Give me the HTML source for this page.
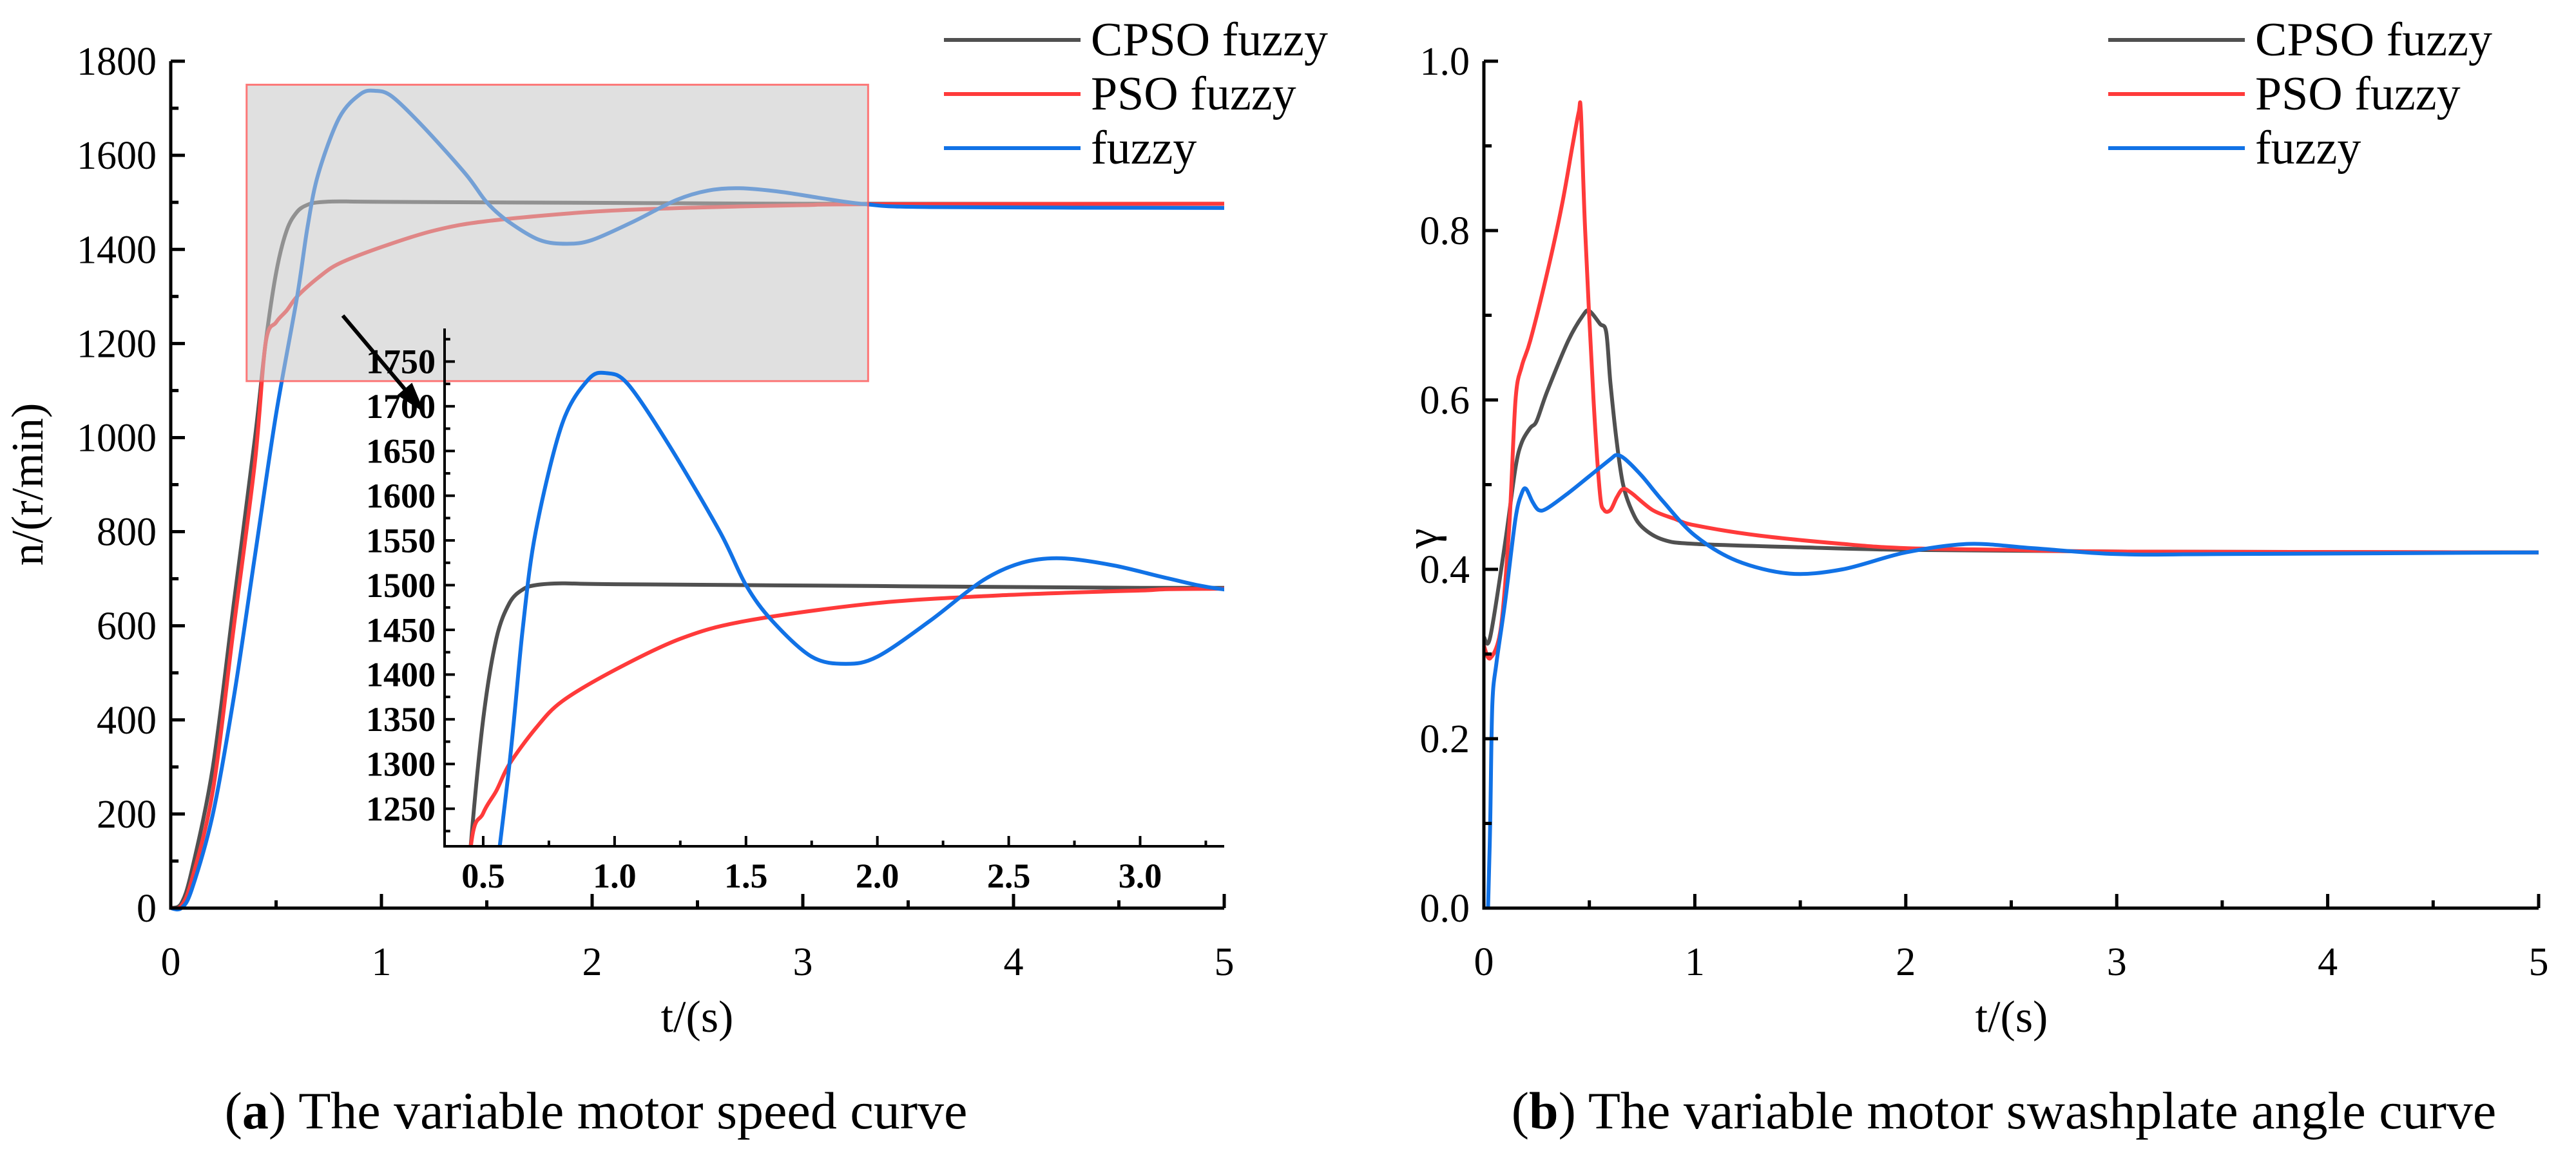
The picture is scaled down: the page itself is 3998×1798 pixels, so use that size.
<!DOCTYPE html>
<html><head><meta charset="utf-8"><style>
html,body{margin:0;padding:0;background:#fff;width:3998px;height:1798px;overflow:hidden}
svg{display:block}
text{font-family:"Liberation Serif",serif;fill:#000}
</style></head><body>
<svg id="fig" width="3998" height="1798" viewBox="0 0 3998 1798" xmlns="http://www.w3.org/2000/svg">
<g id="g"></g>
</svg>
<script>
// ---- left chart data (speed) ----
const spdCpsoT=[0,0.05,0.1,0.2,0.3,0.4,0.45,0.5,0.55,0.6,0.65,0.7,0.8,1.0,2,3,5];
const spdCpsoV=[0,10,80,300,650,1000,1200,1350,1440,1480,1495,1500,1502,1501,1499,1497,1497];
const spdPsoT=[0,0.05,0.1,0.2,0.3,0.4,0.45,0.5,0.55,0.6,0.7,0.8,1.0,1.25,1.5,2.0,2.5,3,3.3,5];
const spdPsoV=[0,5,60,250,600,950,1200,1245,1270,1300,1340,1370,1405,1440,1460,1480,1489,1494,1496,1497];
const spdFzT=[0,0.05,0.1,0.2,0.3,0.4,0.5,0.6,0.65,0.7,0.8,0.9,0.97,1.05,1.2,1.4,1.5,1.6,1.75,1.88,2.0,2.2,2.4,2.55,2.7,2.9,3.1,3.3,3.6,5];
const spdFzV=[0,0,40,200,450,750,1050,1300,1450,1560,1680,1730,1737,1725,1660,1560,1500,1460,1420,1412,1420,1460,1505,1525,1530,1522,1508,1496,1490,1488];
const spdXTicks=[0,1,2,3,4,5];
const spdYTicks=[0,200,400,600,800,1000,1200,1400,1600,1800];
const insXTicks=[0.5,1.0,1.5,2.0,2.5,3.0];
const insYTicks=[1250,1300,1350,1400,1450,1500,1550,1600,1650,1700,1750];
// ---- right chart data (swashplate angle) ----
const angCpsoT=[0,0.03,0.1,0.15,0.18,0.22,0.25,0.3,0.4,0.47,0.5,0.55,0.58,0.6,0.63,0.66,0.7,0.75,0.85,1.0,1.5,2,3,5];
const angCpsoV=[0.32,0.32,0.43,0.52,0.55,0.567,0.575,0.61,0.67,0.7,0.705,0.69,0.68,0.62,0.55,0.5,0.47,0.45,0.435,0.43,0.426,0.423,0.421,0.42];
const angPsoT=[0,0.03,0.08,0.12,0.15,0.18,0.22,0.3,0.37,0.42,0.45,0.46,0.48,0.52,0.55,0.57,0.6,0.63,0.66,0.7,0.8,0.9,1.0,1.3,1.7,2,2.5,3,5];
const angPsoV=[0.31,0.295,0.33,0.45,0.6,0.64,0.67,0.75,0.83,0.9,0.94,0.94,0.8,0.6,0.49,0.47,0.47,0.485,0.495,0.49,0.47,0.46,0.452,0.44,0.43,0.425,0.423,0.421,0.42];
const angFzT=[0.02,0.03,0.04,0.06,0.1,0.15,0.18,0.2,0.23,0.26,0.3,0.4,0.5,0.6,0.63,0.67,0.75,0.85,1.0,1.2,1.45,1.7,2.0,2.3,2.6,3.0,3.5,5];
const angFzV=[0.0,0.1,0.24,0.29,0.36,0.46,0.49,0.495,0.48,0.47,0.472,0.49,0.51,0.53,0.535,0.53,0.51,0.48,0.44,0.41,0.395,0.4,0.42,0.43,0.425,0.418,0.418,0.42];
const angXTicks=[0,1,2,3,4,5];
const angYTicks=[0.0,0.2,0.4,0.6,0.8,1.0];

const NS="http://www.w3.org/2000/svg";
const G=document.getElementById('g');
function mk(tag,attrs,parent){const e=document.createElementNS(NS,tag);for(const k in attrs)e.setAttribute(k,attrs[k]);(parent||G).appendChild(e);return e;}
function lin(d0,d1,r0,r1){return v=>r0+(v-d0)/(d1-d0)*(r1-r0);}
function pathD(T,V,sx,sy){
  const p=T.map((t,i)=>[sx(t),sy(V[i])]);
  let d='M'+p[0][0].toFixed(1)+','+p[0][1].toFixed(1);
  for(let i=0;i<p.length-1;i++){
    const p0=p[i-1]||p[i],p1=p[i],p2=p[i+1],p3=p[i+2]||p2;
    const k=0.16;
    const c1=[p1[0]+(p2[0]-p0[0])*k,p1[1]+(p2[1]-p0[1])*k];
    const c2=[p2[0]-(p3[0]-p1[0])*k,p2[1]-(p3[1]-p1[1])*k];
    d+='C'+c1[0].toFixed(1)+','+c1[1].toFixed(1)+' '+c2[0].toFixed(1)+','+c2[1].toFixed(1)+' '+p2[0].toFixed(1)+','+p2[1].toFixed(1);
  }
  return d;
}
const COL={cpso:'#505050',pso:'#ff3a3a',fz:'#1172e6'};

function drawLegend(x,names){
  const cols=[COL.cpso,COL.pso,COL.fz];
  const labels=['CPSO fuzzy','PSO fuzzy','fuzzy'];
  const ys=[62,146,230];
  for(let i=0;i<3;i++){
    const l=mk('line',{x1:x,x2:x+212,y1:ys[i],y2:ys[i],stroke:cols[i],'stroke-width':6});
    
    
    const t=mk('text',{x:x+228,y:ys[i]+24,'font-size':74});
    t.textContent=labels[i];
    
    
  }
}

function drawAxes(x0,x1,y0,y1,sx,sy,xt,yt,xMinorStep,yMinorStep,xfmt,yfmt,fs,bold,prefix,tickLen,xlabOff){
  const ax=mk('path',{d:`M${x0},${y1}V${y0}H${x1}`,fill:'none',stroke:'#000','stroke-width':bold?4:5});
  
  
  for(let v=xt[0]-xMinorStep; v<=sx.inv(x1)+1e-9; v+=xMinorStep){
    const px=sx(v); if(px<x0-1||px>x1+1) continue;
    const isMaj=xt.some(t=>Math.abs(t-v)<1e-6);
    mk('line',{x1:px,x2:px,y1:y0,y2:y0-(isMaj?tickLen:tickLen*0.55),stroke:'#000','stroke-width':bold?4:5});
  }
  for(let v=yt[0]-yMinorStep; v<=sy.inv(y1)+1e-9; v+=yMinorStep){
    const py=sy(v); if(py>y0+1||py<y1-1) continue;
    const isMaj=yt.some(t=>Math.abs(t-v)<1e-6);
    mk('line',{x1:x0,x2:x0+(isMaj?tickLen:tickLen*0.55),y1:py,y2:py,stroke:'#000','stroke-width':bold?4:5});
  }
  xt.forEach(v=>{
    const t=mk('text',{x:sx(v),y:y0+xlabOff,'font-size':fs,'text-anchor':'middle','font-weight':bold?'bold':'normal'});
    t.textContent=xfmt(v);
    
    
  });
  yt.forEach(v=>{
    const t=mk('text',{x:x0-(bold?14:22),y:sy(v)+fs*0.34,'font-size':fs,'text-anchor':'end','font-weight':bold?'bold':'normal'});
    t.textContent=yfmt(v);
    
    
  });
}
function scale(d0,d1,r0,r1){const f=lin(d0,d1,r0,r1);f.inv=lin(r0,r1,d0,d1);return f;}
function series(T,V,sx,sy,col,name,w,clip){
  const p=mk('path',{d:pathD(T,V,sx,sy),fill:'none',stroke:col,'stroke-width':w||6,'stroke-linejoin':'round'});
  if(clip)p.setAttribute('clip-path',clip);
  
  
}

// ===== LEFT CHART =====
const LX0=265,LX1=1900,LY0=1410,LY1=95;
const lsx=scale(0,5,LX0,LX1), lsy=scale(0,1800,LY0,LY1);
series(spdCpsoT,spdCpsoV,lsx,lsy,COL.cpso,'speed-cpso-line');
series(spdPsoT,spdPsoV,lsx,lsy,COL.pso,'speed-pso-line');
series(spdFzT,spdFzV,lsx,lsy,COL.fz,'speed-fuzzy-line');
const bx0=lsx(0.36),bx1=lsx(3.31),by0=lsy(1750),by1=lsy(1120);
const box=mk('rect',{x:bx0,y:by0,width:bx1-bx0,height:by1-by0,fill:'#c6c6c6','fill-opacity':0.55,stroke:'#ff5a5a','stroke-opacity':0.8,'stroke-width':3});


drawAxes(LX0,LX1,LY0,LY1,lsx,lsy,spdXTicks,spdYTicks,0.5,100,v=>String(v),v=>String(v),62,false,'speed',22,104);
const defs=mk('defs',{});
const mrk=mk('marker',{id:'ah',markerWidth:8,markerHeight:8,refX:7,refY:4,orient:'auto',markerUnits:'strokeWidth'},defs);
mk('path',{d:'M0,1.5L8,4L0,6.5Z',fill:'#000'},mrk);
const clipP=mk('clipPath',{id:'insclip'},defs);
const IX0=690,IX1=1900,IY0=1314,IY1=510;
mk('rect',{x:IX0,y:IY1,width:IX1-IX0,height:IY0-IY1},clipP);
const arr=mk('line',{x1:532,y1:490,x2:655,y2:636,stroke:'#000','stroke-width':6,'marker-end':'url(#ah)'});


const isx=scale(0.353,3.32,IX0,IX1), isy=scale(1208,1787,IY0,IY1);
series(spdCpsoT,spdCpsoV,isx,isy,COL.cpso,'inset-cpso-line',6,'url(#insclip)');
series(spdPsoT,spdPsoV,isx,isy,COL.pso,'inset-pso-line',6,'url(#insclip)');
series(spdFzT,spdFzV,isx,isy,COL.fz,'inset-fuzzy-line',6,'url(#insclip)');
drawAxes(IX0,IX1,IY0,IY1,isx,isy,insXTicks,insYTicks,0.25,25,v=>v.toFixed(1),v=>String(v),54,true,'inset',16,64);
drawLegend(1465,['cpso','pso','fuzzy']);
let t=mk('text',{x:1082,y:1602,'font-size':70,'text-anchor':'middle'});t.textContent='t/(s)';

t=mk('text',{x:0,y:0,'font-size':70,'text-anchor':'middle',transform:'translate(66,752) rotate(-90)'});t.textContent='n/(r/min)';

t=mk('text',{x:925,y:1752,'font-size':82,'text-anchor':'middle'});
t.innerHTML='(<tspan font-weight="bold">a</tspan>) The variable motor speed curve';


// ===== RIGHT CHART =====
const RX0=2303,RX1=3940,RY0=1410,RY1=95;
const rsx=scale(0,5,RX0,RX1), rsy=scale(0,1,RY0,RY1);
series(angCpsoT,angCpsoV,rsx,rsy,COL.cpso,'angle-cpso-line');
series(angPsoT,angPsoV,rsx,rsy,COL.pso,'angle-pso-line');
series(angFzT,angFzV,rsx,rsy,COL.fz,'angle-fuzzy-line');
drawAxes(RX0,RX1,RY0,RY1,rsx,rsy,angXTicks,angYTicks,0.5,0.1,v=>String(v),v=>v.toFixed(1),62,false,'angle',22,104);
drawLegend(3272,['cpso','pso','fuzzy']);
t=mk('text',{x:3122,y:1602,'font-size':70,'text-anchor':'middle'});t.textContent='t/(s)';

t=mk('text',{x:0,y:0,'font-size':70,'text-anchor':'middle',transform:'translate(2230,836) rotate(-90)'});t.textContent='γ';

t=mk('text',{x:3110,y:1752,'font-size':82,'text-anchor':'middle'});
t.innerHTML='(<tspan font-weight="bold">b</tspan>) The variable motor swashplate angle curve';

</script>
</body></html>
